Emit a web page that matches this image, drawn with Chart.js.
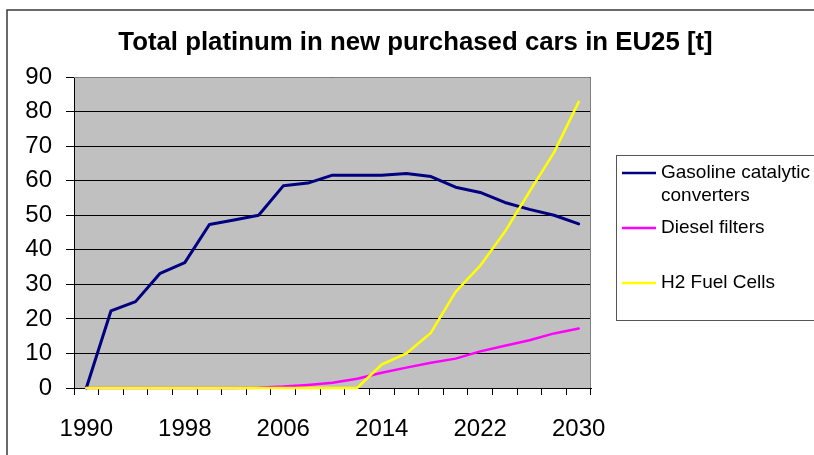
<!DOCTYPE html>
<html>
<head>
<meta charset="utf-8">
<script src="https://cdn.jsdelivr.net/npm/chart.js@4"></script>
<style>
  body { margin: 0; background: #fff; }
</style>
</head>
<body>
<canvas id="ptChart" width="814" height="455"></canvas>
<script>
// Total platinum in new purchased cars in EU25 [t]
const chartTitle = 'Total platinum in new purchased cars in EU25 [t]';
const years = ['1990', '1992', '1994', '1996', '1998', '2000', '2002', '2004', '2006', '2008', '2010',
               '2012', '2014', '2016', '2018', '2020', '2022', '2024', '2026', '2028', '2030'];
const seriesNames = ['Gasoline catalytic converters', 'Diesel filters', 'H2 Fuel Cells'];
const gasoline = [0, 22.3, 25.0, 33.2, 36.3, 47.3, 48.6, 50.0, 58.5, 59.3, 61.6,
                  61.6, 61.6, 62.1, 61.2, 58.1, 56.6, 53.7, 51.7, 50.0, 47.5];
const diesel = [0, 0, 0, 0, 0, 0, 0, 0.1, 0.4, 0.9, 1.5,
                2.7, 4.4, 5.9, 7.3, 8.5, 10.6, 12.2, 13.8, 15.8, 17.2];
const fuelCells = [0, 0, 0, 0, 0, 0, 0, 0, 0, 0, 0,
                   0, 6.8, 10.0, 16.0, 27.8, 35.4, 45.2, 56.8, 68.2, 82.8];
const yTicks = [0, 10, 20, 30, 40, 50, 60, 70, 80, 90];

const FONT = 'Arial, "Liberation Sans", sans-serif';

// grey plot area, outer frame, title, plot border
const excelLook = {
    id: 'excelLook',
    beforeDraw(chart) {
        const ctx = chart.ctx;
        const a = chart.chartArea;
        ctx.save();
        ctx.fillStyle = '#c0c0c0';
        ctx.fillRect(a.left, a.top, a.right - a.left, a.bottom - a.top);
        ctx.strokeStyle = '#3a3a3a';
        ctx.lineWidth = 1.5;
        ctx.strokeRect(7, 10, 900, 600);
        ctx.fillStyle = '#000';
        ctx.font = 'bold 25.8px ' + FONT;
        ctx.textAlign = 'center';
        ctx.textBaseline = 'alphabetic';
        ctx.fillText(chartTitle, 415.5, 50);
        ctx.restore();
    },
    afterDraw(chart) {
        const ctx = chart.ctx;
        const a = chart.chartArea;
        ctx.save();
        // plot border, top and right
        ctx.strokeStyle = '#808080';
        ctx.lineWidth = 1;
        ctx.beginPath();
        ctx.moveTo(a.left, a.top + 0.5);
        ctx.lineTo(a.right - 0.5, a.top + 0.5);
        ctx.lineTo(a.right - 0.5, a.bottom);
        ctx.stroke();
        // last category tick
        ctx.strokeStyle = '#000';
        ctx.beginPath();
        ctx.moveTo(a.right - 0.5, a.bottom);
        ctx.lineTo(a.right - 0.5, a.bottom + 7);
        ctx.stroke();

        // legend
        ctx.strokeStyle = '#555';
        ctx.strokeRect(616.5, 155.5, 300, 165);
        ctx.font = '19px ' + FONT;
        ctx.textAlign = 'left';
        ctx.textBaseline = 'middle';
        let y = 173;
        chart.data.datasets.forEach(ds => {
            ctx.strokeStyle = ds.borderColor;
            ctx.lineWidth = 2.5;
            ctx.beginPath();
            ctx.moveTo(622, y);
            ctx.lineTo(656, y);
            ctx.stroke();
            ctx.fillStyle = '#000';
            const words = ds.label.split(' ');
            let line = '';
            let ly = y;
            words.forEach(w => {
                const test = line ? line + ' ' + w : w;
                if (line && ctx.measureText(test).width > 160) {
                    ctx.fillText(line, 661, ly);
                    line = w;
                    ly += 23;
                } else {
                    line = test;
                }
            });
            ctx.fillText(line, 661, ly);
            y += 55;
        });
        ctx.restore();
    }
};

const ctx = document.getElementById('ptChart').getContext('2d');
new Chart(ctx, {
    type: 'line',
    data: {
        labels: years,
        datasets: [{
            label: seriesNames[0],
            data: gasoline,
            borderColor: '#000080',
            borderWidth: 3,
            clip: 4,
            order: 3
        }, {
            label: seriesNames[1],
            data: diesel,
            borderColor: '#ff00ff',
            borderWidth: 2.5,
            clip: 4,
            order: 2
        }, {
            label: seriesNames[2],
            data: fuelCells,
            borderColor: '#ffff00',
            borderWidth: 2.5,
            clip: 4,
            order: 1
        }]
    },
    options: {
        responsive: false,
        animation: false,
        layout: {
            padding: { left: 0, top: 77, right: 223, bottom: 0 }
        },
        elements: {
            point: { radius: 0 },
            line: { tension: 0, borderCapStyle: 'round', borderJoinStyle: 'round' }
        },
        plugins: {
            legend: { display: false },
            title: { display: false },
            tooltip: { enabled: false }
        },
        scales: {
            x: {
                type: 'category',
                offset: true,
                afterFit: s => { s.height = 67; },
                grid: {
                    drawOnChartArea: false,
                    drawTicks: true,
                    tickLength: 7,
                    color: '#000',
                    offset: true
                },
                border: { display: true, color: '#000', width: 1 },
                ticks: {
                    autoSkip: false,
                    maxRotation: 0,
                    padding: 20,
                    color: '#000',
                    font: { family: FONT, size: 24 },
                    callback: function(value, index) {
                        return index % 4 === 0 ? years[index] : '';
                    }
                }
            },
            y: {
                min: 0,
                max: 90,
                afterFit: s => { s.width = 74; },
                afterBuildTicks: s => { s.ticks = yTicks.map(v => ({ value: v })); },
                grid: {
                    color: '#000',
                    lineWidth: 1,
                    tickLength: 8
                },
                border: { display: true, color: '#000', width: 1 },
                ticks: {
                    padding: 14,
                    color: '#000',
                    font: { family: FONT, size: 24 }
                }
            }
        }
    },
    plugins: [excelLook]
});
</script>
</body>
</html>
